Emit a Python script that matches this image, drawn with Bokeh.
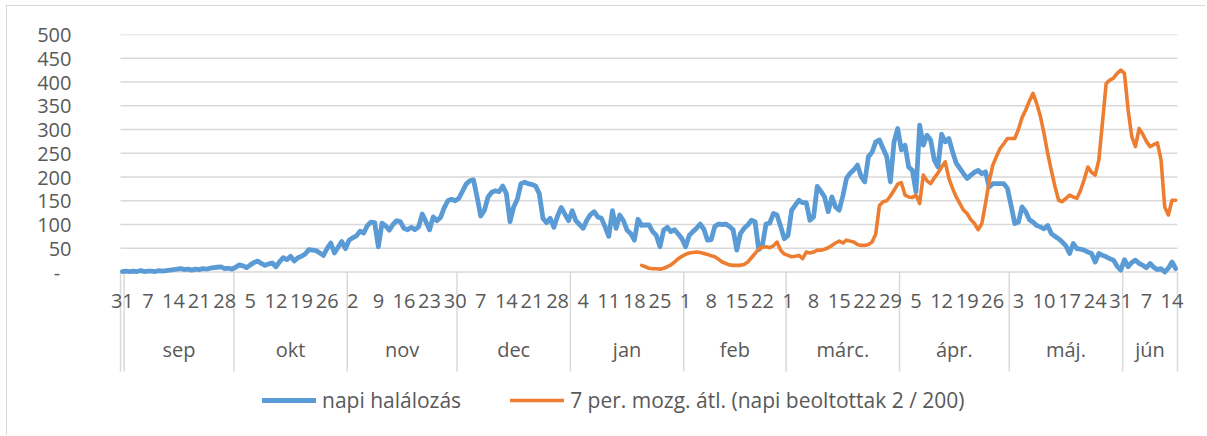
import pandas as pd
from bokeh.plotting import figure
from bokeh.models import Range1d, FixedTicker, Legend, LegendItem
from bokeh.core.properties import value
from bokeh.embed import file_html
from bokeh.resources import INLINE

# ---- data -------------------------------------------------------------
start_date = "2020-08-31"
n_days = 289

# napi halálozás (daily deaths), one value per day from 2020-08-31
deaths = [
    1, 2, 1, 2, 1, 3, 1, 2, 2, 1, 3, 2, 3, 4, 5, 6, 7, 5, 6, 4,
    6, 5, 7, 6, 8, 9, 10, 11, 7, 8, 6, 10, 15, 13, 9, 15, 20, 23, 18, 14,
    17, 19, 11, 22, 30, 26, 33, 23, 30, 33, 38, 47, 46, 45, 40, 35, 50, 61, 40, 52,
    64, 49, 67, 72, 76, 86, 82, 98, 105, 104, 53, 103, 97, 88, 100, 108, 106, 92, 89, 94,
    89, 95, 122, 106, 89, 116, 108, 115, 135, 150, 153, 150, 155, 170, 185, 192, 194, 158, 118, 130,
    158, 168, 171, 169, 181, 165, 106, 137, 153, 186, 189, 186, 184, 181, 165, 113, 104, 113, 94, 118,
    136, 122, 108, 129, 108, 100, 92, 109, 121, 127, 116, 113, 95, 75, 129, 92, 120, 108, 88, 81,
    67, 111, 98, 99, 99, 85, 77, 53, 88, 94, 85, 89, 80, 70, 53, 77, 85, 92, 101, 90,
    67, 68, 96, 101, 100, 101, 96, 89, 46, 81, 92, 99, 109, 106, 47, 56, 101, 103, 123, 120,
    96, 70, 77, 130, 141, 151, 146, 146, 109, 116, 180, 170, 158, 127, 158, 137, 130, 160, 197, 208,
    215, 225, 201, 190, 243, 252, 274, 278, 260, 243, 190, 274, 302, 257, 267, 221, 214, 169, 309, 267,
    288, 278, 236, 221, 290, 274, 281, 253, 229, 218, 207, 197, 204, 210, 214, 207, 211, 179, 186, 186,
    186, 186, 176, 140, 102, 105, 137, 127, 110, 105, 98, 95, 91, 98, 81, 75, 70, 63, 55, 39,
    60, 49, 48, 46, 42, 39, 21, 39, 35, 32, 28, 25, 12, 4, 26, 11, 20, 25, 18, 14,
    9, 18, 10, 5, 7, 0, 8, 21, 7,
]

# 7 per. mozg. átl. (napi beoltottak 2 / 200), starts at day index 142
vacc_first_day = 142
vaccinated = [
    14, 11, 8, 7, 7, 6, 8, 11, 15, 21, 28, 33, 37, 40, 41, 42, 41, 39, 37, 34,
    32, 27, 21, 18, 15, 14, 14, 14, 16, 21, 30, 39, 49, 52, 53, 51, 55, 63, 46, 38,
    35, 32, 33, 35, 28, 42, 40, 42, 46, 46, 48, 51, 56, 61, 65, 61, 67, 65, 63, 58,
    56, 56, 58, 63, 80, 140, 148, 150, 160, 172, 185, 188, 162, 158, 157, 162, 144, 204, 192, 186,
    198, 208, 221, 232, 197, 176, 158, 144, 130, 123, 110, 102, 89, 102, 144, 190, 225, 243, 260, 270,
    281, 281, 281, 300, 325, 341, 360, 376, 355, 328, 292, 250, 214, 180, 151, 148, 155, 162, 158, 155,
    172, 195, 221, 210, 204, 236, 316, 397, 404, 408, 418, 425, 418, 341, 285, 264, 302, 290, 275, 264,
    268, 272, 236, 137, 120, 151, 151,
]

month_names = {9: "sep", 10: "okt", 11: "nov", 12: "dec", 1: "jan", 2: "feb",
               3: "márc.", 4: "ápr.", 5: "máj.", 6: "jún"}
y_ticks = list(range(0, 501, 50))
series_names = ["napi halálozás", "7 per. mozg. átl. (napi beoltottak 2 / 200)"]

assert len(deaths) == n_days
assert len(vaccinated) == n_days - vacc_first_day

dates = pd.date_range(start_date, periods=n_days)
idx = list(range(n_days))
vacc_idx = idx[vacc_first_day:]

# day labels every 7 days
day_tick_idx = idx[::7]
day_labels = [str(dates[i].day) for i in day_tick_idx]

# month boundaries / centres
bounds = [-0.5]
for i in range(1, n_days):
    if dates[i].month != dates[i - 1].month:
        bounds.append(i - 0.5)
bounds.append(n_days - 0.5)
m_x, m_text = [], []
for a, b in zip(bounds[:-1], bounds[1:]):
    mon = dates[int(a + 0.5)].month
    if mon in month_names:
        m_x.append((a + b) / 2)
        m_text.append(month_names[mon])

# ---- figure -------------------------------------------------------------
FONT = "Open Sans"
TXT = "#595959"
GRID = "#d9d9d9"

x_lo, x_hi = bounds[0], bounds[-1]
px_per_day = 1057 / n_days
x_start = x_lo - 20 / px_per_day
x_end = x_hi + 23 / px_per_day

p = figure(width=1199, height=430, output_backend="svg", toolbar_location=None,
           x_axis_type=None, x_range=Range1d(x_start, x_end),
           y_range=Range1d(-342.1, 500),
           min_border_left=93, min_border_right=6, min_border_top=28,
           min_border_bottom=2)
p.margin = (5, 0, 0, 6)
p.outline_line_color = None
p.background_fill_color = "white"
p.border_fill_color = "white"
p.styles = {"border-left": "1px solid #d9d9d9", "border-top": "1px solid #d9d9d9"}

p.yaxis.ticker = FixedTicker(ticks=y_ticks)
p.yaxis.major_label_overrides = {0: "-\u2007"}
p.yaxis.axis_line_color = None
p.yaxis.major_tick_line_color = None
p.yaxis.minor_tick_line_color = None
p.yaxis.major_tick_out = 0
p.yaxis.major_label_standoff = 29
p.yaxis.major_label_text_font = FONT
p.yaxis.major_label_text_font_size = "20px"
p.yaxis.major_label_text_color = TXT

p.xgrid.grid_line_color = None
p.ygrid.grid_line_color = None

# horizontal gridlines spanning only the category area
p.segment(x0=[x_lo] * len(y_ticks), y0=y_ticks, x1=[x_hi] * len(y_ticks), y1=y_ticks,
          line_color=GRID, line_width=1.5)

# category separators
p.segment(x0=bounds, y0=[0] * len(bounds), x1=bounds, y1=[-209.5] * len(bounds),
          line_color=GRID, line_width=1.5)

# day labels and month labels
p.text(x=day_tick_idx, y=[-60] * len(day_tick_idx), text=day_labels,
       text_align="center", text_baseline="middle",
       text_font=value(FONT), text_font_size="20px", text_color=TXT)
p.text(x=m_x, y=[-163] * len(m_x), text=m_text,
       text_align="center", text_baseline="middle",
       text_font=value(FONT), text_font_size="20px", text_color=TXT)

r1 = p.line(idx, deaths, line_color="#5B9BD5", line_width=4.8,
            line_join="round", line_cap="round")
r2 = p.line(vacc_idx, vaccinated, line_color="#ED7D31", line_width=3.6,
            line_join="round", line_cap="round")

legend = Legend(items=[LegendItem(label=series_names[0], renderers=[r1]),
                       LegendItem(label=series_names[1], renderers=[r2])],
                orientation="horizontal", location=(162, 20),
                padding=0, margin=0, spacing=49, label_standoff=6,
                glyph_width=54, glyph_height=20, label_height=20,
                label_text_font=FONT, label_text_font_size="21px",
                label_text_color=TXT, border_line_color=None,
                background_fill_alpha=0)
p.add_layout(legend)

open("out.html", "w").write(file_html(p, INLINE))
